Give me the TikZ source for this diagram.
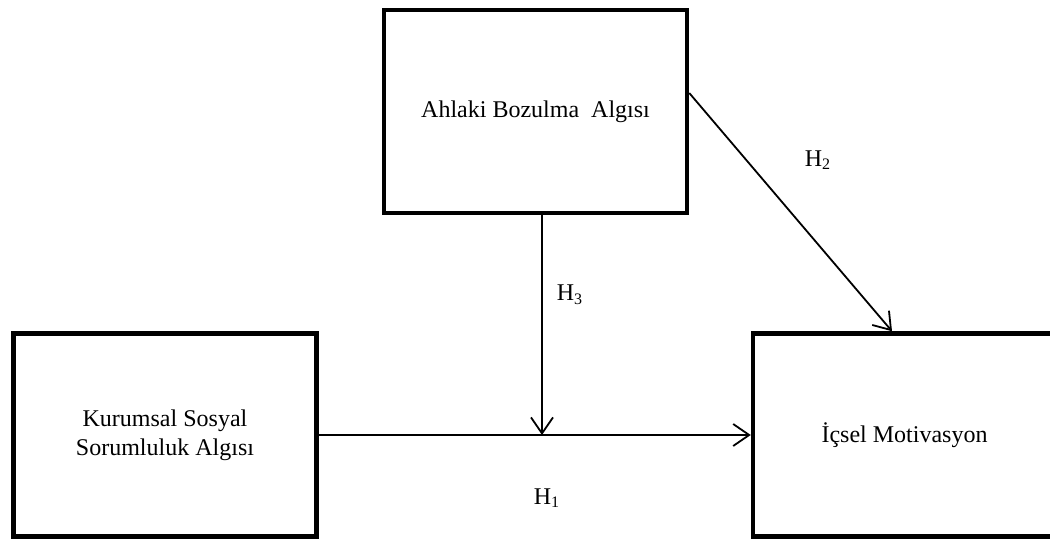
\documentclass[tikz,border=0pt]{standalone}
\usepackage{fontspec}
\setmainfont{Liberation Serif}
\usetikzlibrary{arrows.meta}

\begin{document}
\begin{tikzpicture}[x=0.5pt, y=-0.5pt, every node/.style={font=\fontsize{12}{14.5}\selectfont},
  kutu/.style={draw, line width=2.25pt, minimum width=151.5pt, minimum height=101.5pt, align=center, inner sep=0pt},
  ok/.style={line width=0.9pt, -{Straight Barb[length=8pt, width=11pt, line width=0.9pt]}}]
  \useasboundingbox (0,0) rectangle (1050,539);
  % Kutular
  \node[kutu] (aba) at (535.5,111.5) {Ahlaki Bozulma~ Algısı};
  \node[kutu] (kss) at (165,435) {Kurumsal Sosyal\\Sorumluluk Algısı};
  \node[kutu] (im) at (904.5,435) {İçsel Motivasyon};
  \coordinate (kesisim) at (542,435);

  % Oklar
  \draw[ok] (kss) -- (im);
  \draw[ok] (aba.south -| kesisim) -- (kesisim);
  \draw[ok] ([yshift=9.25pt]aba.east) -- ([xshift=-6.25pt]im.north);

  % Hipotezler
  \node (h1) at (547,498) {H\textsubscript{1}};
  \node (h2) at (818,160) {H\textsubscript{2}};
  \node (h3) at (570,295) {H\textsubscript{3}};
\end{tikzpicture}
\end{document}
